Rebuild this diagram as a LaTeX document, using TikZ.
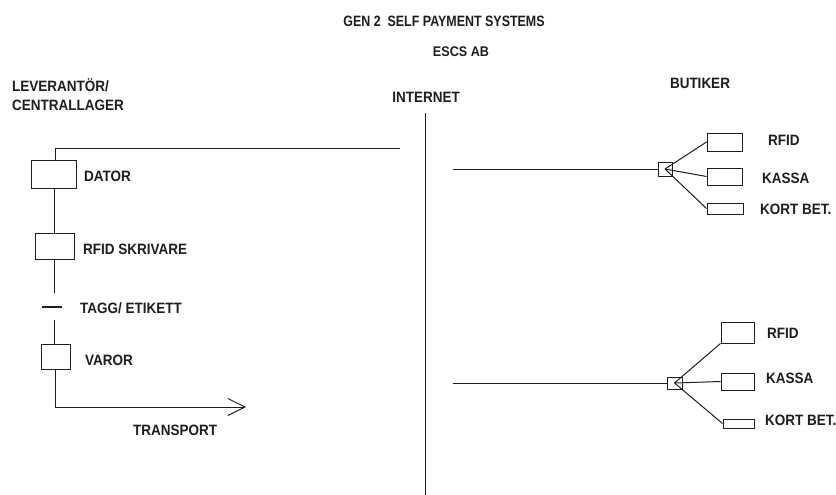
\documentclass[tikz,border=0pt]{standalone}
\usepackage{fontspec}
\setmainfont{Liberation Sans}
\usetikzlibrary{arrows.meta}
\definecolor{ink}{HTML}{1E1E1E}
\newcommand{\nar}[1]{\scalebox{0.9}[1]{#1}}
\newcommand{\narT}[1]{\scalebox{0.83}[1]{#1}}
\begin{document}
\begin{tikzpicture}[x=1pt,y=-1pt,
  lbl/.style={anchor=west,inner sep=0pt,text height=10.7pt,text depth=0pt,text=ink,font=\fontsize{15}{15}\selectfont\bfseries},
  ttl/.style={lbl,anchor=center},
  box/.style={draw=ink,line width=1pt,inner sep=0pt,fill=white},
  wire/.style={draw=ink,line width=1pt}]
\useasboundingbox[fill=white] (0,0) rectangle (836,495);
% titles
\node[ttl] (title) at (444,21) {\narT{GEN 2\ \ SELF PAYMENT SYSTEMS}};
\node[ttl,font=\fontsize{14}{14}\selectfont\bfseries,text height=10pt] (escs) at (461,52) {\nar{ESCS AB}};
\node[ttl] (inet) at (426,97) {\nar{INTERNET}};
\node[ttl] (butiker) at (700,83) {\nar{BUTIKER}};
\node[lbl] (lev) at (12,86) {\nar{LEVERANTÖR/}};
\node[lbl] (cent) at (12,105) {\nar{CENTRALLAGER}};
% internet line
\coordinate (inetTop) at (425,113);
\coordinate (inetBot) at (425,495);
\draw[wire] (inetTop) -- (inetBot);
% left column
\node[box,minimum width=45pt,minimum height=28pt] (dator) at (53.5,174) {};
\node[lbl] (datorL) at (84,176) {\nar{DATOR}};
\node[box,minimum width=39pt,minimum height=26pt] (rfidp) at (54.5,246) {};
\node[lbl] (rfidpL) at (83,249) {\nar{RFID SKRIVARE}};
\coordinate (tagA) at (42,307);
\coordinate (tagB) at (62,307);
\node[lbl] (tagL) at (80,308) {\nar{TAGG/ ETIKETT}};
\node[box,minimum width=29pt,minimum height=25pt] (varor) at (55.5,356.5) {};
\node[lbl] (varorL) at (85,360) {\nar{VAROR}};
\node[lbl] (transL) at (133,430) {\nar{TRANSPORT}};
\coordinate (corner) at (55,148);
\coordinate (lineEnd) at (400,148);
\coordinate (t1) at (54,293);
\coordinate (t2) at (54,320);
\coordinate (tcorner) at (55.5,407);
\coordinate (arrEnd) at (246,407);
\draw[wire] (dator.north -| corner) -- (corner) -- (lineEnd);
\draw[wire] (dator.south -| t1) -- (rfidp.north -| t1);
\draw[wire] (rfidp.south -| t1) -- (t1);
\draw[wire,line width=2pt] (tagA) -- (tagB);
\draw[wire] (t2) -- (varor.north -| t2);
\draw[wire,-{Straight Barb[length=17pt,width=17pt,line width=1pt]}] (varor.south) -- (tcorner) -- (arrEnd);
% right upper group
\coordinate (s1) at (453,169);
\node[box,minimum width=14pt,minimum height=14pt] (hub1) at (665,169) {};
\node[box,minimum width=35pt,minimum height=18pt] (rf1) at (724.5,142) {};
\node[box,minimum width=35pt,minimum height=17pt] (ka1) at (724.5,176.5) {};
\node[box,minimum width=36pt,minimum height=11pt] (ko1) at (725,208.5) {};
\node[lbl] (rf1L) at (768,140) {\nar{RFID}};
\node[lbl] (ka1L) at (762,178) {\nar{KASSA}};
\node[lbl] (ko1L) at (760,209) {\nar{KORT BET.}};
\draw[wire] (s1) -- (hub1.west);
\draw[wire] (hub1.center) -- (rf1.west);
\draw[wire] (hub1.center) -- (ka1.west);
\draw[wire] (hub1.center) -- (ko1.west);
% right lower group
\coordinate (s2) at (453,383);
\node[box,minimum width=15pt,minimum height=12pt] (hub2) at (674.5,383) {};
\node[box,minimum width=33pt,minimum height=21pt] (rf2) at (737.5,332.5) {};
\node[box,minimum width=33pt,minimum height=17pt] (ka2) at (737.5,381.5) {};
\node[box,minimum width=31pt,minimum height=9pt] (ko2) at (738.5,423.5) {};
\node[lbl] (rf2L) at (767,333) {\nar{RFID}};
\node[lbl] (ka2L) at (766,378) {\nar{KASSA}};
\node[lbl] (ko2L) at (765,420) {\nar{KORT BET.}};
\draw[wire] (s2) -- (hub2.west);
\draw[wire] (hub2.center) -- (rf2.south west);
\draw[wire] (hub2.center) -- (ka2.west);
\draw[wire] (hub2.center) -- (ko2.west);
\end{tikzpicture}
\end{document}
